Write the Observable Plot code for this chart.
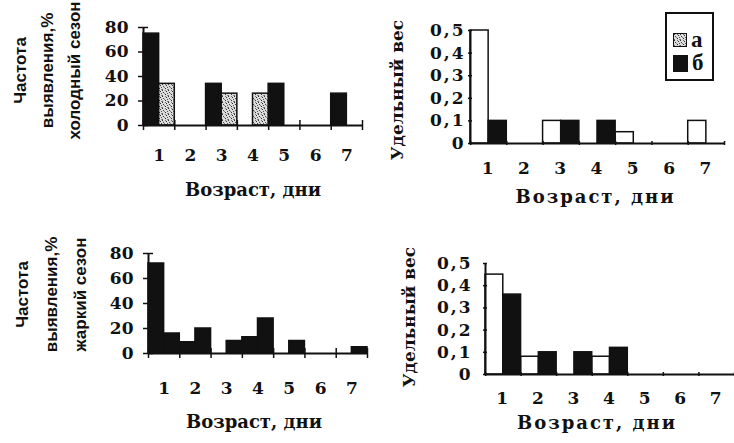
<!DOCTYPE html>
<html>
<head>
<meta charset="utf-8">
<script src="https://cdn.jsdelivr.net/npm/d3@7"></script>
<script src="https://cdn.jsdelivr.net/npm/@observablehq/plot@0.6"></script>
<style>
  html, body { margin: 0; padding: 0; background: #fff; }
  #page { position: relative; width: 734px; height: 443px; overflow: hidden; background: #fff; }
  .panel { position: absolute; }
  #legend {
    position: absolute; left: 665px; top: 12px; width: 45px; height: 65px;
    border: 2px solid #111; background: #fff;
    font-family: "Liberation Serif", serif; font-weight: bold; font-size: 23px; color: #111;
  }
  #legend .item { position: absolute; left: 6px; display: flex; align-items: center; }
  #legend .sw { display: inline-block; border: 1px solid #111; margin-right: 4px; }
</style>
</head>
<body>
<svg width="0" height="0" style="position:absolute">
  <defs>
    <!-- speckled grey fill for the hatched series -->
    <pattern id="stipple" width="6" height="6" patternUnits="userSpaceOnUse">
      <rect width="6" height="6" fill="#dcdcdc"></rect>
      <rect x="0" y="0" width="1" height="1" fill="#333"></rect>
      <rect x="3" y="0" width="1" height="1" fill="#777"></rect>
      <rect x="4" y="1" width="1" height="1" fill="#333"></rect>
      <rect x="1" y="2" width="1" height="1" fill="#444"></rect>
      <rect x="5" y="3" width="1" height="1" fill="#555"></rect>
      <rect x="2" y="3" width="1" height="1" fill="#888"></rect>
      <rect x="3" y="4" width="1" height="1" fill="#333"></rect>
      <rect x="0" y="5" width="1" height="1" fill="#666"></rect>
      <rect x="5" y="5" width="1" height="1" fill="#888"></rect>
    </pattern>
  </defs>
</svg>
<div id="page"></div>
<script>
// Age in days and the tick values of both kinds of panels
const days = [1, 2, 3, 4, 5, 6, 7];
const dayBounds = [0.5, 1.5, 2.5, 3.5, 4.5, 5.5, 6.5, 7.5];
const freqTicks = [0, 20, 40, 60, 80];
const shareTicks = [0, 0.1, 0.2, 0.3, 0.4, 0.5];
const shareTickLabels = ["0", "0,1", "0,2", "0,3", "0,4", "0,5"];
const legendLabels = ["а", "б"];
const xTitle = "Возраст, дни";
const coldFreqTitle = ["Частота", "выявления,%", "холодный сезон"];
const hotFreqTitle = ["Частота", "выявления,%", "жаркий сезон"];
const shareTitle = ["Удельный вес"];

// Cold season: detection frequency, %
const coldFreqLeft = [75, 0, 34, 0, 34, 0, 26];
const coldFreqRight = [34, 0, 26, 26, 0, 0, 0];
// Cold season: share
const coldShareLeft = [0.5, 0, 0.1, 0, 0.05, 0, 0.1];
const coldShareRight = [0.1, 0, 0.1, 0.1, 0, 0, 0];
// Hot season: detection frequency, %
const hotFreqLeft = [72, 9, 0, 13, 0, 0, 0];
const hotFreqRight = [16, 20, 10, 28, 10, 0, 5];
// Hot season: share
const hotShareLeft = [0.45, 0.08, 0, 0.08, 0, 0, 0];
const hotShareRight = [0.36, 0.1, 0.1, 0.12, 0, 0, 0];

const INK = "#111";
const page = document.getElementById("page");

function rows(values) {
  return days.map((day, i) => ({day, value: values[i]})).filter(d => d.value > 0);
}

function drawPanel(c) {
  const fw = c.x1 - c.x0;
  const fh = c.y1 - c.y0;
  const chart = Plot.plot({
    width: c.width,
    height: c.height,
    marginLeft: c.x0,
    marginRight: c.width - c.x1,
    marginTop: c.y0,
    marginBottom: c.height - c.y1,
    style: {fontFamily: "'DejaVu Serif', serif", fontWeight: "bold", fontSize: "17px", color: INK, background: "transparent", overflow: "visible"},
    x: {type: "linear", domain: [0.5, 7.5]},
    y: {domain: c.yDomain},
    marks: [
      Plot.rect(rows(c.left), {x1: d => d.day - 0.5, x2: d => d.day, y1: () => 0, y2: "value", fill: c.leftFill, stroke: INK, strokeWidth: 1.5}),
      Plot.rect(rows(c.right), {x1: d => d.day, x2: d => d.day + 0.5, y1: () => 0, y2: "value", fill: c.rightFill, stroke: INK, strokeWidth: 1.5}),
      Plot.ruleX([0.5], {stroke: INK, strokeWidth: 2}),
      Plot.ruleY([0], {stroke: INK, strokeWidth: 2}),
      Plot.tickY(c.yTicks, {y: d => d, insetRight: fw - c.tickLen, dx: -c.tickLen / 2, stroke: INK, strokeWidth: 1.5}),
      Plot.tickX(dayBounds, {x: d => d, insetTop: fh - c.tickLen, dy: c.tickLen / 2, stroke: INK, strokeWidth: 1.5}),
      Plot.axisY({ticks: c.yTicks, tickFormat: c.yFormat, tickSize: 0, tickPadding: c.yPad, label: null, fontSize: 17}),
      Plot.axisX({ticks: days, tickFormat: d => String(d), tickSize: 0, tickPadding: c.xPad, label: null, fontSize: 17}),
      Plot.text([xTitle], {text: d => d, frameAnchor: "bottom", lineAnchor: "middle", dx: c.xTitleDx, dy: c.xTitleDy, fontSize: 18}),
      Plot.text([c.title.join("\n")], {
        text: d => d, frameAnchor: "left", rotate: -90, textAnchor: "middle", lineAnchor: "middle",
        dx: c.titleDx, dy: c.titleDy, lineHeight: c.titleLineHeight,
        fontFamily: c.titleFont, fontSize: c.titleSize, fontWeight: "bold"
      })
    ]
  });
  chart.classList.add("panel");
  chart.style.left = c.left0 + "px";
  chart.style.top = c.top0 + "px";
  const svg = d3.select(chart);
  if (c.spacing) {
    svg.selectAll('g[aria-label="x-axis tick label"] text, g[aria-label="y-axis tick label"] text').attr("letter-spacing", c.spacing);
    svg.selectAll("text").filter(function () { return this.textContent === xTitle; }).attr("letter-spacing", c.spacing);
  }
  page.appendChild(chart);
}

const freqFormat = d => String(d);
const shareFormat = d => shareTickLabels[shareTicks.indexOf(d)];

// Top left: cold season, frequency
drawPanel({
  left0: 0, top0: 0, width: 367, height: 215,
  x0: 143, x1: 362, y0: 27, y1: 125,
  yDomain: [0, 80], yTicks: freqTicks, yFormat: freqFormat,
  left: coldFreqLeft, right: coldFreqRight, leftFill: INK, rightFill: "url(#stipple)",
  tickLen: 10, yPad: 15, xPad: 23, xTitleDx: 0, xTitleDy: 65,
  title: coldFreqTitle, titleFont: "'Liberation Sans', sans-serif", titleSize: 17,
  titleDx: -99, titleDy: -6, titleLineHeight: 1.6
});

// Top right: cold season, share
drawPanel({
  left0: 367, top0: 0, width: 367, height: 215,
  x0: 103, x1: 357, y0: 30, y1: 143,
  yDomain: [0, 0.5], yTicks: shareTicks, yFormat: shareFormat,
  left: coldShareLeft, right: coldShareRight, leftFill: "#fff", rightFill: INK,
  tickLen: 4, yPad: 5, xPad: 18, xTitleDx: -2, xTitleDy: 54, spacing: "2px",
  title: shareTitle, titleFont: "'DejaVu Serif', serif", titleSize: 17,
  titleDx: -73, titleDy: 3, titleLineHeight: 1
});

// Bottom left: hot season, frequency
drawPanel({
  left0: 0, top0: 215, width: 367, height: 228,
  x0: 148, x1: 367, y0: 38, y1: 138,
  yDomain: [0, 80], yTicks: freqTicks, yFormat: freqFormat,
  left: hotFreqLeft, right: hotFreqRight, leftFill: INK, rightFill: INK,
  tickLen: 10, yPad: 15, xPad: 28, xTitleDx: -4, xTitleDy: 69,
  title: hotFreqTitle, titleFont: "'Liberation Sans', sans-serif", titleSize: 17,
  titleDx: -101, titleDy: -9, titleLineHeight: 1.7
});

// Bottom right: hot season, share
drawPanel({
  left0: 367, top0: 215, width: 367, height: 228,
  x0: 118, x1: 367, y0: 48, y1: 159,
  yDomain: [0, 0.5], yTicks: shareTicks, yFormat: shareFormat,
  left: hotShareLeft, right: hotShareRight, leftFill: "#fff", rightFill: INK,
  tickLen: 4, yPad: 13, xPad: 17, xTitleDx: -13, xTitleDy: 49, spacing: "2px",
  title: shareTitle, titleFont: "'DejaVu Serif', serif", titleSize: 17,
  titleDx: -76, titleDy: -2, titleLineHeight: 1
});

// Legend for the series
const legend = document.createElement("div");
legend.id = "legend";
const swatchFills = ["url(#stipple)", INK];
const swatchSizes = [[12, 12], [13, 15]];
const itemTops = [13, 36];
legendLabels.forEach((label, i) => {
  const item = document.createElement("div");
  item.className = "item";
  item.style.top = itemTops[i] + "px";
  const sw = document.createElementNS("http://www.w3.org/2000/svg", "svg");
  sw.setAttribute("width", swatchSizes[i][0]);
  sw.setAttribute("height", swatchSizes[i][1]);
  sw.setAttribute("class", "sw");
  const r = document.createElementNS("http://www.w3.org/2000/svg", "rect");
  r.setAttribute("width", swatchSizes[i][0]);
  r.setAttribute("height", swatchSizes[i][1]);
  r.setAttribute("fill", swatchFills[i]);
  sw.appendChild(r);
  const t = document.createElement("span");
  t.textContent = label;
  item.appendChild(sw);
  item.appendChild(t);
  legend.appendChild(item);
});
page.appendChild(legend);
</script>
</body>
</html>
